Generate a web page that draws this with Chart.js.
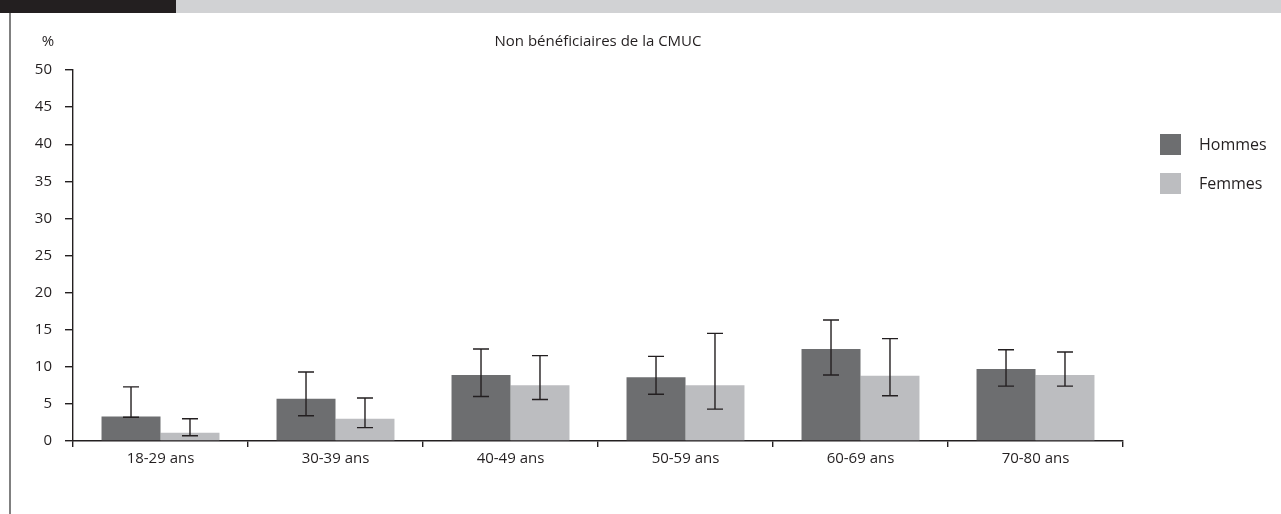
<!DOCTYPE html>
<html lang="fr">
<head>
<meta charset="utf-8">
<title>Non bénéficiaires de la CMUC</title>
<script src="https://cdn.jsdelivr.net/npm/chart.js@4.4.1/dist/chart.umd.min.js"></script>
<style>
  html, body { margin: 0; padding: 0; background: #ffffff; }
  #wrap { position: relative; width: 1281px; height: 514px; }
  canvas { display: block; }
</style>
</head>
<body>
<div id="wrap"><canvas id="cmucChart" width="1281" height="514"></canvas></div>
<script>
// Tranches d'âge et pourcentages (avec intervalles de confiance)
const categories = ["18-29 ans", "30-39 ans", "40-49 ans", "50-59 ans", "60-69 ans", "70-80 ans"];

const hommes = [3.3, 5.7, 8.9, 8.6, 12.4, 9.7];
const hommesLow = [3.2, 3.4, 6.0, 6.3, 8.9, 7.4];
const hommesHigh = [7.3, 9.3, 12.4, 11.4, 16.3, 12.3];

const femmes = [1.1, 3.0, 7.5, 7.5, 8.8, 8.9];
const femmesLow = [0.7, 1.8, 5.6, 4.3, 6.1, 7.4];
const femmesHigh = [3.0, 5.8, 11.5, 14.5, 13.8, 12.0];

const seriesNames = ["Hommes", "Femmes"];
const chartTitle = "Non bénéficiaires de la CMUC";
const yUnit = "%";

const FONT = "'Open Sans', 'Noto Sans', sans-serif";
const TEXT_COLOR = "#231f20";
const DARK_BAR = "#6d6e70";
const LIGHT_BAR = "#bcbdc0";

// bandeau du haut + filet vertical à gauche
const framePlugin = {
  id: "frame",
  beforeDraw(chart) {
    const ctx = chart.ctx;
    ctx.save();
    ctx.fillStyle = "#ffffff";
    ctx.fillRect(0, 0, chart.width, chart.height);
    ctx.fillStyle = "#231f20";
    ctx.fillRect(0, 0, 176, 13);
    ctx.fillStyle = "#d1d2d4";
    ctx.fillRect(176, 0, chart.width - 176, 13);
    ctx.fillStyle = "#808080";
    ctx.fillRect(9, 13, 2, chart.height - 13);
    ctx.restore();
  }
};

// barres d'erreur dessinées à partir des bornes basses/hautes
const errorBarPlugin = {
  id: "errorBars",
  afterDatasetsDraw(chart) {
    const ctx = chart.ctx;
    const yScale = chart.scales.y;
    ctx.save();
    ctx.strokeStyle = "#231f20";
    ctx.lineWidth = 1.4;
    chart.data.datasets.forEach((ds, i) => {
      const meta = chart.getDatasetMeta(i);
      meta.data.forEach((bar, j) => {
        const yLow = yScale.getPixelForValue(ds.errLow[j]);
        const yHigh = yScale.getPixelForValue(ds.errHigh[j]);
        const x = bar.x;
        ctx.beginPath();
        ctx.moveTo(x, yLow);
        ctx.lineTo(x, yHigh);
        ctx.moveTo(x - 8, yLow);
        ctx.lineTo(x + 8, yLow);
        ctx.moveTo(x - 8, yHigh);
        ctx.lineTo(x + 8, yHigh);
        ctx.stroke();
      });
    });
    ctx.restore();
  }
};

// titre, unité et légende
const labelsPlugin = {
  id: "labels",
  afterDraw(chart) {
    const ctx = chart.ctx;
    const area = chart.chartArea;
    ctx.save();
    ctx.fillStyle = TEXT_COLOR;
    ctx.font = "15px " + FONT;
    ctx.textBaseline = "middle";
    ctx.textAlign = "center";
    ctx.fillText(chartTitle, (area.left + area.right) / 2, 42);
    ctx.fillText(yUnit, 48, 42);

    ctx.textAlign = "left";
    ctx.font = "16px " + FONT;
    chart.data.datasets.forEach((ds, i) => {
      const top = 134 + i * 39;
      ctx.fillStyle = ds.backgroundColor;
      ctx.fillRect(1160, top, 21, 21);
      ctx.fillStyle = TEXT_COLOR;
      ctx.fillText(ds.label, 1199, top + 11);
    });
    ctx.restore();
  }
};

new Chart(document.getElementById("cmucChart"), {
  type: "bar",
  data: {
    labels: categories,
    datasets: [
      {
        label: seriesNames[0],
        data: hommes,
        errLow: hommesLow,
        errHigh: hommesHigh,
        backgroundColor: DARK_BAR,
        borderWidth: 0
      },
      {
        label: seriesNames[1],
        data: femmes,
        errLow: femmesLow,
        errHigh: femmesHigh,
        backgroundColor: LIGHT_BAR,
        borderWidth: 0
      }
    ]
  },
  options: {
    responsive: false,
    animation: false,
    devicePixelRatio: 1,
    categoryPercentage: 0.674,
    barPercentage: 1,
    layout: {
      padding: { top: 70, right: 158, left: 0, bottom: 0 }
    },
    plugins: {
      legend: { display: false },
      title: { display: false },
      tooltip: { enabled: false }
    },
    scales: {
      x: {
        afterFit(scale) { scale.height = 73; },
        border: { display: true, color: "#231f20", width: 1.4 },
        grid: {
          offset: true,
          drawOnChartArea: false,
          drawTicks: true,
          tickLength: 6,
          color: "#231f20",
          lineWidth: 1.4
        },
        ticks: {
          color: TEXT_COLOR,
          padding: 3,
          font: { family: FONT, size: 15 }
        }
      },
      y: {
        min: 0,
        max: 50,
        afterFit(scale) { scale.width = 73; },
        border: { display: true, color: "#231f20", width: 1.4 },
        grid: {
          drawOnChartArea: false,
          drawTicks: true,
          tickLength: 8,
          color: "#231f20",
          lineWidth: 1.4
        },
        ticks: {
          stepSize: 5,
          color: TEXT_COLOR,
          padding: 13,
          font: { family: FONT, size: 15 }
        }
      }
    }
  },
  plugins: [framePlugin, errorBarPlugin, labelsPlugin]
});
</script>
</body>
</html>
